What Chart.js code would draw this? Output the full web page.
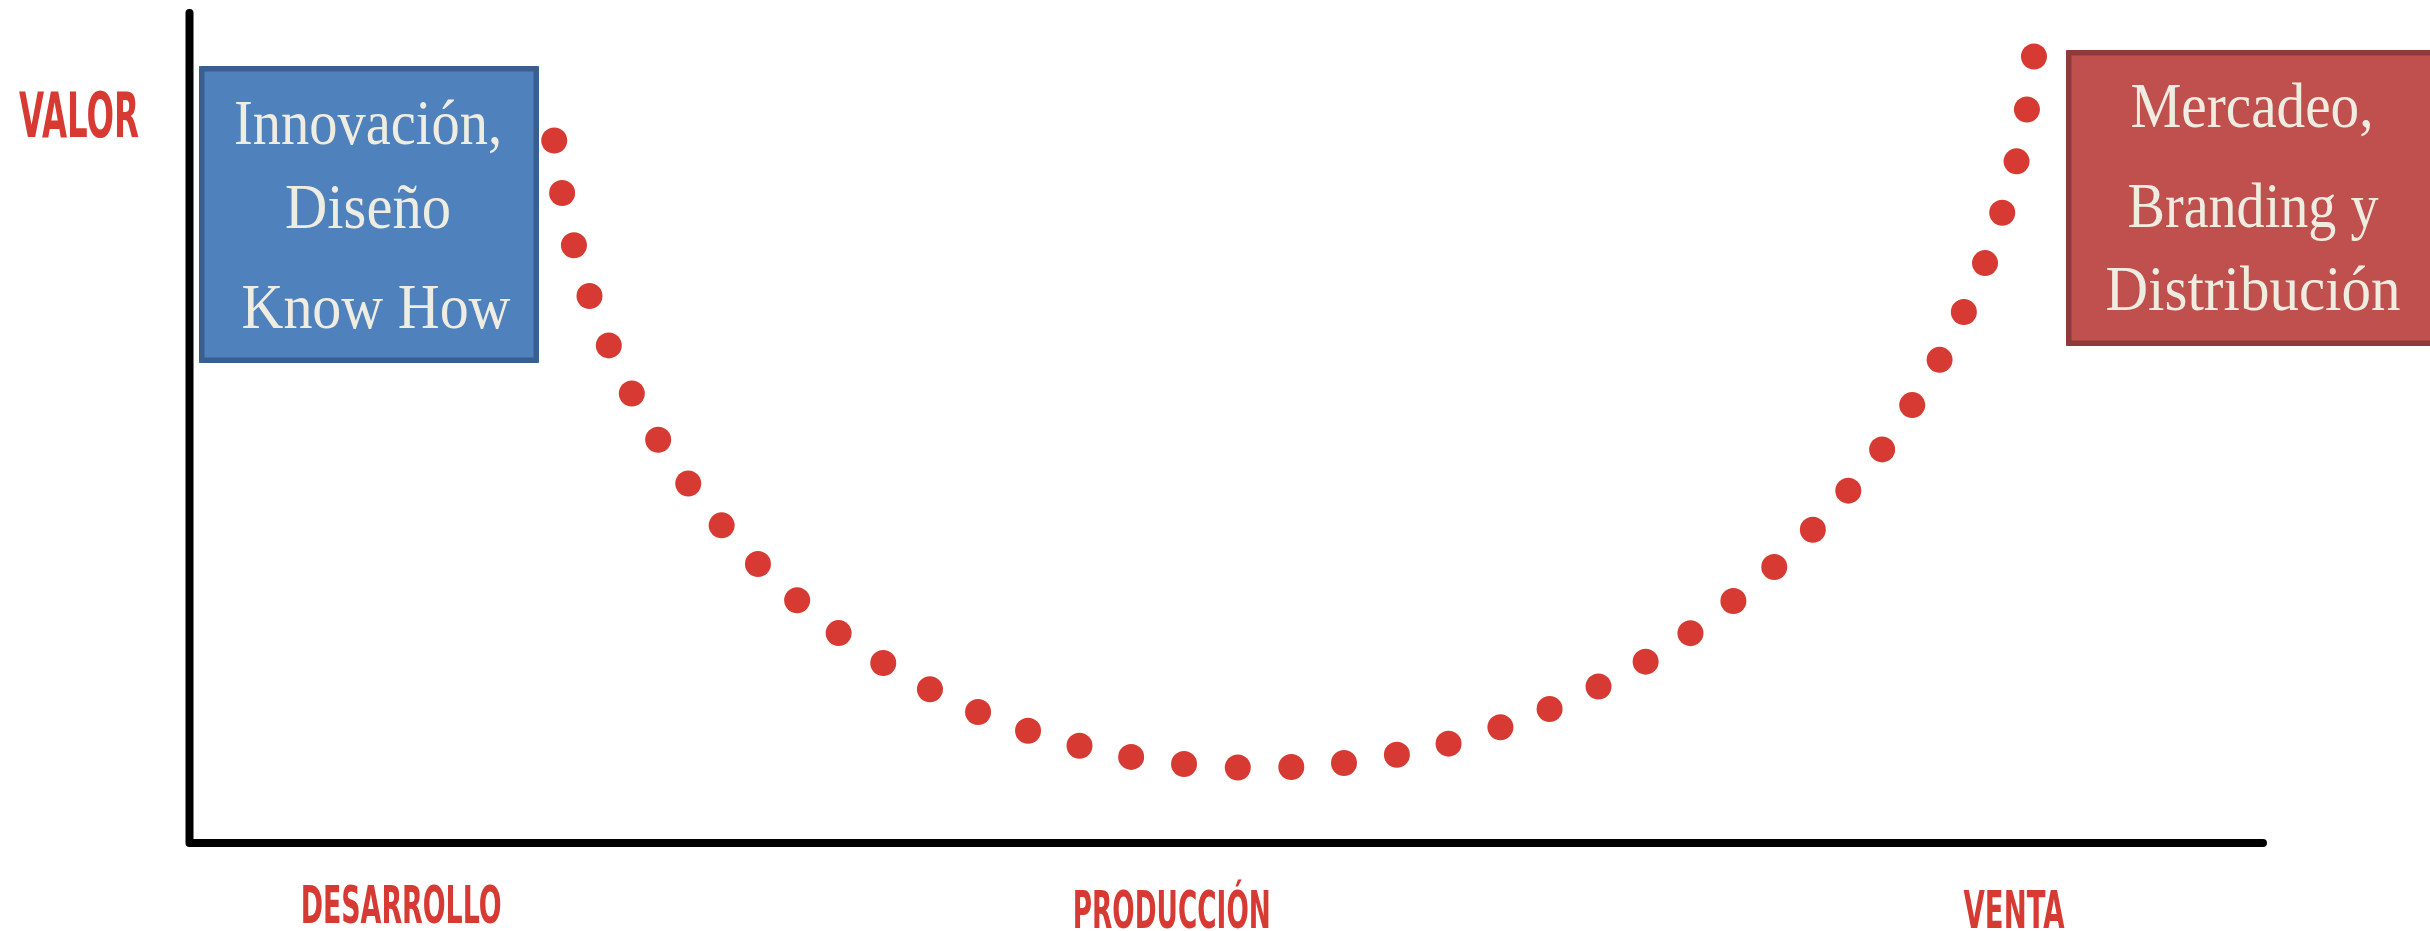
<!DOCTYPE html>
<html lang="es">
<head>
<meta charset="utf-8">
<title>Curva de valor</title>
<script src="https://cdn.jsdelivr.net/npm/chart.js@4.4.1/dist/chart.umd.min.js"></script>
<style>
  html, body { margin: 0; padding: 0; background: #ffffff; }
  #caja { width: 2430px; height: 931px; position: relative; }
</style>
</head>
<body>
<div id="caja"><canvas id="graficoCurva"></canvas></div>
<script>
// etapas del eje x y su posición en la escala (0-100)
const etapas = ['DESARROLLO', 'PRODUCCIÓN', 'VENTA'];
const posEtapas = [10.25, 47.4, 88.0];
const tituloY = 'VALOR';

const textoIzq = ['Innovación,', 'Diseño', 'Know How'];
const textoDer = ['Mercadeo,', 'Branding y', 'Distribución'];

// puntos de la curva
const puntosX = [17.63, 18.01, 18.58, 19.33, 20.26, 21.37, 22.64, 24.09, 25.70, 27.45,
                 29.34, 31.34, 33.49, 35.74, 38.06, 40.47, 42.95, 45.44, 47.99, 50.58,
                 53.16, 55.70, 58.25, 60.74, 63.24, 65.61, 67.97, 70.24, 72.40, 74.47,
                 76.44, 78.30, 80.01, 81.64, 83.09, 84.41, 85.58, 86.60, 87.43, 88.12,
                 88.62, 88.96];
const puntosY = [84.64, 78.31, 72.02, 65.91, 59.95, 54.16, 48.58, 43.32, 38.27, 33.61,
                 29.25, 25.29, 21.69, 18.53, 15.79, 13.53, 11.72, 10.37, 9.52, 9.10,
                 9.16, 9.64, 10.63, 11.97, 13.94, 16.14, 18.85, 21.85, 25.28, 29.15,
                 33.26, 37.74, 42.45, 47.42, 52.76, 58.21, 63.98, 69.87, 75.94, 82.13,
                 88.38, 94.76];

const rojo = '#D63A33';
const crema = '#EFECE1';

// escribe un texto ajustado a un ancho dado
function textoAjustado(ctx, txt, cx, base, ancho, fuente, color) {
    ctx.save();
    ctx.font = fuente;
    const w = ctx.measureText(txt).width;
    ctx.translate(cx, base);
    ctx.scale(ancho / w, 1);
    ctx.fillStyle = color;
    ctx.textAlign = 'center';
    ctx.textBaseline = 'alphabetic';
    ctx.fillText(txt, 0, 0);
    ctx.restore();
}

function caja(ctx, x1, y1, x2, y2, relleno, borde) {
    ctx.save();
    ctx.fillStyle = relleno;
    ctx.fillRect(x1, y1, x2 - x1, y2 - y1);
    ctx.strokeStyle = borde;
    ctx.lineWidth = 5.5;
    ctx.lineJoin = 'round';
    ctx.strokeRect(x1 + 2.75, y1 + 2.75, x2 - x1 - 5.5, y2 - y1 - 5.5);
    ctx.restore();
}

const decorado = {
    id: 'decorado',
    beforeDatasetsDraw(chart) {
        const { ctx, chartArea: a } = chart;
        ctx.save();
        ctx.strokeStyle = '#000000';
        ctx.lineWidth = 8;
        ctx.lineCap = 'round';
        ctx.lineJoin = 'round';
        ctx.beginPath();
        ctx.moveTo(a.left + 1, a.top);
        ctx.lineTo(a.left + 1, a.bottom);
        ctx.lineTo(a.right, a.bottom);
        ctx.stroke();
        ctx.restore();
    },
    afterDraw(chart) {
        const ctx = chart.ctx;
        const x = chart.scales.x;
        const fuenteEtq = 'bold 52px "DejaVu Sans"';

        // título del eje y
        textoAjustado(ctx, tituloY, 79, 137, 120, 'bold 63px "DejaVu Sans"', rojo);

        // etapas
        const anchos = [201, 198, 101];
        const bases = [923, 928, 928];
        etapas.forEach((e, i) => {
            textoAjustado(ctx, e, x.getPixelForValue(posEtapas[i]), bases[i], anchos[i], fuenteEtq, rojo);
        });

        // cajas
        caja(ctx, 199, 66, 539, 363, '#4F81BD', '#3A5F8E');
        caja(ctx, 2066, 50, 2445, 346, '#C0504D', '#8D3A38');

        const serif = '63px "Liberation Serif"';
        const izq = [[368, 144, 268], [368, 228, 166], [376, 328, 269]];
        textoIzq.forEach((t, i) => textoAjustado(ctx, t, izq[i][0], izq[i][1], izq[i][2], serif, crema));
        const der = [[2252, 127, 243], [2253, 227, 251], [2253, 310, 295]];
        textoDer.forEach((t, i) => textoAjustado(ctx, t, der[i][0], der[i][1], der[i][2], serif, crema));
    }
};

const ctx = document.getElementById('graficoCurva').getContext('2d');
new Chart(ctx, {
    type: 'scatter',
    data: {
        datasets: [{
            label: 'Valor',
            data: puntosX.map((v, i) => ({ x: v, y: puntosY[i] })),
            pointRadius: 13,
            pointHoverRadius: 13,
            pointBackgroundColor: rojo,
            pointBorderWidth: 0,
            showLine: false
        }]
    },
    options: {
        responsive: true,
        maintainAspectRatio: false,
        animation: false,
        layout: {
            padding: { left: 188.5, top: 11, right: 167, bottom: 88 }
        },
        scales: {
            x: { type: 'linear', min: 0, max: 100, display: false },
            y: { type: 'linear', min: 0, max: 100, display: false }
        },
        plugins: {
            legend: { display: false },
            tooltip: { enabled: false }
        }
    },
    plugins: [decorado]
});
</script>
</body>
</html>
